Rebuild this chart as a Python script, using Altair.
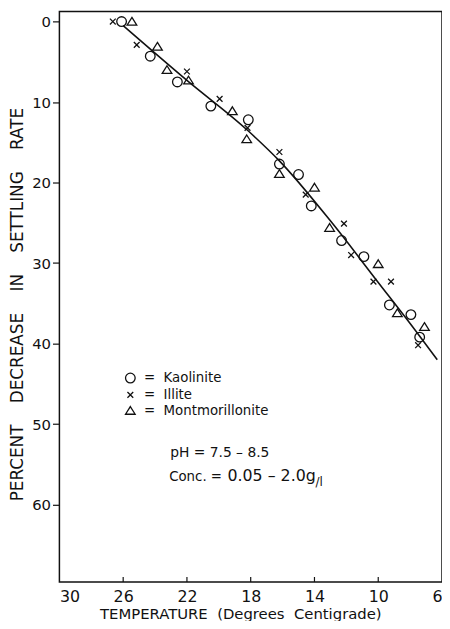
import altair as alt
import pandas as pd

# ---- data ----
kao_t = [26.1, 24.3, 22.6, 20.5, 18.15, 16.2, 15.0, 14.2, 12.3, 10.9, 9.3, 7.95, 7.4]
kao_p = [0.0, 4.3, 7.5, 10.5, 12.2, 17.7, 19.0, 22.9, 27.2, 29.2, 35.2, 36.4, 39.2]
ill_t = [26.65, 25.15, 22.0, 19.95, 18.2, 16.2, 14.55, 12.15, 11.7, 10.3, 9.2, 7.5]
ill_p = [0.0, 2.9, 6.2, 9.6, 13.2, 16.2, 21.5, 25.1, 29.0, 32.3, 32.3, 40.2]
mon_t = [25.45, 23.85, 23.25, 21.9, 19.15, 18.25, 16.2, 14.0, 13.05, 10.0, 8.8, 7.1]
mon_p = [0.0, 3.1, 6.0, 7.3, 11.1, 14.6, 18.9, 20.6, 25.6, 30.1, 36.2, 37.9]
fit_t = [26.0, 22.0, 18.2, 16.2, 12.9, 10.0, 8.0, 6.3]
fit_p = [0.5, 7.3, 13.5, 17.3, 25.0, 32.4, 37.5, 42.0]

clays = ["Kaolinite", "Illite", "Montmorillonite"]
x_ticks = [30, 26, 22, 18, 14, 10, 6]
x_inner_ticks = [26, 22, 18, 14, 10]
y_ticks = [0, 10, 20, 30, 40, 50, 60]

FONT = "DejaVu Sans"
INK = "#111"
NB = "\u00a0"
GAP = NB * 4

pts = pd.DataFrame({
    "t": kao_t + ill_t + mon_t,
    "p": kao_p + ill_p + mon_p,
    "clay": ["Kaolinite"] * len(kao_t) + ["Illite"] * len(ill_t) + ["Montmorillonite"] * len(mon_t),
})
fit = pd.DataFrame({"t": fit_t, "p": fit_p})
ticks_df = pd.DataFrame({"t": x_inner_ticks})

xscale = alt.Scale(domain=[6, 30], reverse=True, nice=False, zero=False)
yscale = alt.Scale(domain=[-1.25, 69.6], reverse=True, nice=False, zero=False)

xaxis = alt.Axis(
    values=x_ticks, grid=False, ticks=False, domain=False, labelFontSize=16,
    labelFont=FONT, labelPadding=7, labelColor=INK,
    title=f"TEMPERATURE{NB}{NB}(Degrees{NB}{NB}Centigrade)",
    titleFont=FONT, titleFontSize=15, titleFontWeight="normal", titleColor=INK,
    titleX=183, titleY=37, titleAnchor="middle", titleAlign="center", titleBaseline="alphabetic",
)
yaxis = alt.Axis(
    values=y_ticks, grid=False, tickSize=7, tickColor=INK, tickWidth=1.2, domain=False,
    labelFontSize=15, labelFont=FONT, labelPadding=2, labelColor=INK,
    title=f"PERCENT{GAP}DECREASE{GAP}IN{GAP}SETTLING{GAP}RATE",
    titleFont=FONT, titleFontSize=17, titleFontWeight="normal", titleColor=INK,
    titleX=-42, titleY=296, titleAlign="center", titleBaseline="middle", titleAngle=270,
)

x_path = "M-0.6,-0.6L0.6,0.6M0.6,-0.6L-0.6,0.6"
tri_path = "M0,-0.85L1,0.75L-1,0.75Z"

points = alt.Chart(pts).mark_point(filled=False, strokeWidth=1.3, opacity=1, color=INK, size=95).encode(
    x=alt.X("t:Q", scale=xscale, axis=xaxis),
    y=alt.Y("p:Q", scale=yscale, axis=yaxis),
    shape=alt.Shape(
        "clay:N",
        scale=alt.Scale(domain=clays, range=["circle", x_path, tri_path]),
        sort=clays,
        legend=alt.Legend(
            title=None, orient="none", legendX=65, legendY=364, padding=0,
            labelFont=FONT, labelFontSize=13.5, labelColor=INK,
            labelExpr=f"'={NB}{NB}' + datum.label", labelOffset=7,
            symbolSize=95, symbolStrokeWidth=1.3, symbolStrokeColor=INK,
            symbolFillColor="transparent", rowPadding=1,
        ),
    ),
)

line = alt.Chart(fit).mark_line(color=INK, strokeWidth=1.6, interpolate="monotone").encode(
    x=alt.X("t:Q", scale=xscale), y=alt.Y("p:Q", scale=yscale)
)

inner_ticks = alt.Chart(ticks_df).mark_rule(color=INK, strokeWidth=1.2).encode(
    x=alt.X("t:Q", scale=xscale), y=alt.value(577), y2=alt.value(572)
)

ph_txt = pd.DataFrame({"s": ["pH = 7.5 \u2013 8.5"]})
conc1 = pd.DataFrame({"s": ["Conc. ="]})
conc2 = pd.DataFrame({"s": ["0.05 \u2013 2.0g"]})
conc3 = pd.DataFrame({"s": ["/l"]})

def txt(df, x, y, size):
    return alt.Chart(df).mark_text(align="left", baseline="alphabetic", font=FONT,
                                   fontSize=size, color=INK).encode(
        x=alt.value(x), y=alt.value(y), text="s:N")

chart = alt.layer(
    line, inner_ticks, points,
    txt(ph_txt, 112, 451, 14),
    txt(conc1, 111, 475, 13.5),
    txt(conc2, 170, 475, 16),
    txt(conc3, 259, 480, 12),
).properties(
    width=387, height=577,
    padding={"left": 52, "top": 0, "right": 0, "bottom": 36},
    autosize=alt.AutoSizeParams(type="none"),
    background="white",
).configure_view(stroke=INK, strokeWidth=1.5)

chart.save("out.html", embed_options={"renderer": "svg", "actions": False})
